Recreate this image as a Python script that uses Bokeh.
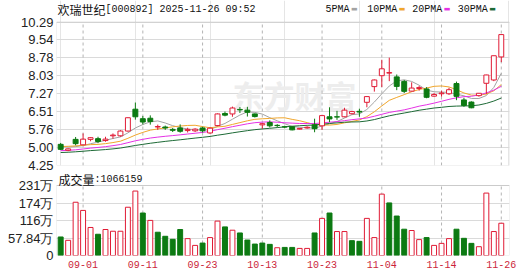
from bokeh.plotting import figure
from bokeh.layouts import column
from bokeh.models import (Range1d, FixedTicker, Label, ColumnDataSource,
                          PrintfTickFormatter, BoxAnnotation)
from bokeh.embed import file_html
from bokeh.resources import INLINE

# ---------------- data ----------------
dates = ["08-27", "08-28", "08-29",
         "09-01", "09-02", "09-03", "09-04", "09-05", "09-08", "09-09", "09-10", "09-11", "09-12",
         "09-15", "09-16", "09-17", "09-18", "09-19", "09-22", "09-23", "09-24", "09-25", "09-26",
         "09-29", "09-30", "10-09", "10-10", "10-13", "10-14", "10-15", "10-16", "10-17",
         "10-20", "10-21", "10-22", "10-23", "10-24", "10-27", "10-28", "10-29", "10-30", "10-31",
         "11-03", "11-04", "11-05", "11-06", "11-07", "11-10", "11-11", "11-12", "11-13", "11-14",
         "11-17", "11-18", "11-19", "11-20", "11-21", "11-24", "11-25", "11-26"]
opens = [5.14, 4.89, 5.35, 5.12, 5.35, 5.38, 5.30, 5.50, 5.50, 5.70,
         6.62, 6.22, 6.24, 5.87, 5.87, 5.77, 5.83, 5.72, 5.71, 5.83,
         5.62, 5.93, 6.44, 6.42, 6.61, 6.58, 6.42, 5.96, 6.06, 5.94,
         5.88, 5.88, 5.78, 5.83, 5.96, 5.92, 6.30, 6.30, 6.30, 6.43,
         6.53, 6.91, 7.57, 8.03, 8.14, 7.98, 7.79, 7.38, 7.49, 7.47,
         7.17, 7.27, 7.27, 7.70, 7.01, 6.92, 7.19, 7.71, 7.85, 8.82]
closes = [4.93, 4.95, 5.17, 5.36, 5.42, 5.26, 5.36, 5.53, 5.70, 6.26,
          6.30, 6.08, 6.10, 5.89, 5.83, 5.73, 5.69, 5.77, 5.78, 5.71,
          5.82, 6.42, 6.37, 6.67, 6.59, 6.49, 6.31, 6.01, 5.92, 5.93,
          5.87, 5.75, 5.81, 5.86, 5.80, 6.35, 6.21, 6.29, 6.58, 6.52,
          6.50, 7.15, 7.85, 8.32, 8.16, 7.58, 7.37, 7.51, 7.53, 7.12,
          7.24, 7.30, 7.44, 7.16, 6.78, 6.68, 7.29, 8.06, 8.87, 9.76]
highs = [5.20, 4.97, 5.45, 5.60, 5.44, 5.46, 5.46, 5.60, 5.74, 6.27,
         6.90, 6.33, 6.36, 5.97, 5.93, 5.83, 5.98, 5.84, 5.82, 5.88,
         5.86, 6.44, 6.52, 6.73, 6.71, 6.72, 6.44, 6.04, 6.15, 5.99,
         5.92, 5.90, 5.83, 5.90, 6.22, 6.37, 6.70, 6.55, 6.68, 6.55,
         6.64, 7.17, 7.87, 8.70, 8.79, 8.08, 7.85, 7.75, 7.60, 7.55,
         7.30, 7.40, 7.52, 7.78, 7.10, 6.95, 7.30, 8.07, 8.87, 9.76]
lows = [4.90, 4.85, 5.10, 5.11, 5.27, 5.19, 5.25, 5.38, 5.46, 5.68,
        6.18, 5.98, 5.97, 5.75, 5.75, 5.66, 5.63, 5.64, 5.66, 5.64,
        5.58, 5.90, 6.32, 6.30, 6.46, 6.31, 6.27, 5.80, 5.85, 5.86,
        5.82, 5.73, 5.76, 5.80, 5.65, 5.75, 6.07, 6.17, 6.28, 6.40,
        6.30, 6.70, 7.36, 7.55, 7.80, 7.42, 7.30, 7.36, 7.40, 7.08,
        7.14, 7.15, 7.22, 7.00, 6.72, 6.66, 7.15, 7.25, 7.80, 8.60]
# volume in 万
volumes = [61.2, 50.1, 176.0, 149.0, 92.6, 70.2, 85.9, 80.2, 80.2, 159.5,
           213.0, 140.4, 116.0, 76.9, 63.5, 53.5, 85.9, 55.8, 33.4, 41.1,
           59.2, 113.7, 94.6, 83.6, 74.5, 51.1, 37.8, 41.1, 36.8, 25.7,
           26.7, 26.7, 23.4, 23.4, 74.5, 122.7, 140.4, 79.2, 79.2, 49.1,
           46.8, 122.7, 59.2, 202.9, 173.8, 130.4, 86.9, 82.6, 52.5, 59.2,
           33.4, 40.1, 55.8, 86.9, 56.8, 40.1, 29.1, 206.3, 79.2, 106.6]
# closes of the 29 sessions before 08-27 (for the moving averages)
pre_closes = [4.58, 4.61, 4.66, 4.62, 4.64, 4.68, 4.66, 4.63, 4.65, 4.67,
              4.67, 4.71, 4.69, 4.66, 4.70, 4.72, 4.68, 4.71, 4.73, 4.73,
              4.85, 5.00, 5.10, 5.15, 5.15, 5.05, 5.08, 5.12, 5.05]
tick_dates = ["09-01", "09-11", "09-23", "10-13", "10-23", "11-04", "11-14", "11-26"]
price_ticks = [4.25, 5.00, 5.76, 6.51, 7.27, 8.03, 8.78, 9.54, 10.29]
vol_ticks = [0, 57.84, 115.68, 173.52, 231.36]
vol_tick_labels = ["0", "57.84万", "116万", "174万", "231万"]
ma_periods = [5, 10, 20, 30]
ma_names = ["5PMA", "10PMA", "20PMA", "30PMA"]
stock_name = "欢瑞世纪"
stock_info = "[000892] 2025-11-26 09:52"
vol_title = "成交量"
vol_now = ":1066159"
watermark = "东方财富"

# ---------------- styles / layout ----------------
RED = "#e01b35"
GREEN = "#0c7a12"
MA_COLORS = ["#a3a3a3", "#f0a62c", "#e532e5", "#1d6a36"]
BORDER = "#a8a8a8"
CJK = "Noto Sans CJK SC"
MONO = "Liberation Mono"
SANS = "Liberation Sans"

W = 530
FL, FR = 56, 509                 # frame left/right in canvas px
P_H, P_TOP_PANEL, P_BOT_PANEL = 172, 21.5, 165     # price figure
V_TOP, V_PANEL_TOP, V_PANEL_BOT = 172, 185, 255    # volume figure (canvas y)
VOL_TITLE_Y = 179

n = len(dates)
xs = list(range(n))
X0, X1 = -0.56, n + 0.1
px_x = (FR - FL) / (X1 - X0)


def dx(cx):
    """canvas x -> data x"""
    return X0 + (cx - FL) / px_x


pk = (price_ticks[-1] - price_ticks[0]) / (P_BOT_PANEL - P_TOP_PANEL)
p_end = price_ticks[-1] + P_TOP_PANEL * pk


def dyp(cy):
    return price_ticks[0] + (P_BOT_PANEL - cy) * pk


vk = vol_ticks[-1] / (V_PANEL_BOT - V_PANEL_TOP)
v_end = vol_ticks[-1] + (V_PANEL_TOP - V_TOP) * vk


def dyv(cy):
    return (V_PANEL_BOT - cy) * vk


up = [c >= o for o, c in zip(opens, closes)]
prev = [pre_closes[-1]] + closes[:-1]
vup = [c >= pc for c, pc in zip(closes, prev)]
allc = pre_closes + closes
off = len(pre_closes)
mas = [[sum(allc[off + i - per + 1: off + i + 1]) / per for i in range(n)] for per in ma_periods]

src = ColumnDataSource(dict(
    x=xs, h=highs, l=lows,
    top=[max(o, c) for o, c in zip(opens, closes)],
    bot=[min(o, c) for o, c in zip(opens, closes)],
    col=[RED if u else GREEN for u in up],
    fill=["white" if u else GREEN for u in up],
    vol=volumes,
    vcol=[RED if u else GREEN for u in vup],
    vfill=["white" if u else GREEN for u in vup],
))
tick_idx = [dates.index(d) for d in tick_dates]
xr = Range1d(X0, X1)


def style_yaxis(ax):
    ax.major_tick_line_color = None
    ax.minor_tick_line_color = None
    ax.axis_line_color = None
    ax.major_tick_out = 0
    ax.major_label_standoff = 3
    ax.major_label_text_font = SANS
    ax.major_label_text_font_size = "13px"
    ax.major_label_text_color = "#222222"


def txt(fig, x, y, s, font, size, color="#111111", **kw):
    fig.add_layout(Label(x=x, y=y, text=s, text_font=font, text_font_size=size,
                         text_color=color, text_baseline="middle", **kw))


# ---------------- price panel ----------------
p = figure(width=W, height=P_H, x_range=xr, y_range=Range1d(price_ticks[0], p_end),
           output_backend="svg", toolbar_location=None, title=None,
           x_axis_location=None, min_border_left=FL, min_border_right=W - FR,
           min_border_top=0, min_border_bottom=P_H - P_BOT_PANEL)
p.outline_line_color = None
p.yaxis.ticker = FixedTicker(ticks=price_ticks)
p.yaxis.formatter = PrintfTickFormatter(format="%.2f")
style_yaxis(p.yaxis)
p.ygrid.grid_line_color = "#dadada"

txt(p, dx(232), dyp(93.5), watermark, CJK, "31px", "#ededed", text_font_style="bold",
    level="underlay")

p.segment(x0=tick_idx, y0=price_ticks[0], x1=tick_idx, y1=price_ticks[-1],
          line_color="#b4b4b4", line_dash="3 3", line_width=1)
p.add_layout(BoxAnnotation(left=X0, right=X1, bottom=price_ticks[0], top=price_ticks[-1],
                           fill_color=None, line_color=BORDER, line_width=1))

for vals, c in zip(mas, MA_COLORS):
    p.line(xs, vals, line_color=c, line_width=1)

p.segment(x0="x", y0="h", x1="x", y1="l", line_color="col", line_width=1, source=src)
p.vbar(x="x", width=0.66, top="top", bottom="bot", fill_color="fill",
       line_color="col", line_width=1, source=src)

ty = dyp(8.5)
txt(p, dx(57), ty, stock_name, CJK, "12px")
txt(p, dx(105), ty, stock_info, MONO, "10px")
leg_cx = [325, 366.7, 411.7, 457.3]
for cx, name, c in zip(leg_cx, ma_names, MA_COLORS):
    txt(p, dx(cx), ty, name, MONO, "10px")
    txt(p, dx(cx + 6 * len(name) + 1.5), dyp(8.2), "▬", "DejaVu Sans", "7px", c)

# ---------------- volume panel ----------------
v = figure(width=W, height=276 - P_H, x_range=xr, y_range=Range1d(0, v_end),
           output_backend="svg", toolbar_location=None, title=None,
           min_border_left=FL, min_border_right=W - FR, min_border_top=0,
           min_border_bottom=276 - V_PANEL_BOT)
v.outline_line_color = None
v.yaxis.ticker = FixedTicker(ticks=vol_ticks)
v.yaxis.major_label_overrides = {t: s for t, s in zip(vol_ticks, vol_tick_labels)}
style_yaxis(v.yaxis)
v.xaxis.ticker = FixedTicker(ticks=tick_idx)
v.xaxis.major_label_overrides = {i: d for i, d in zip(tick_idx, tick_dates)}
v.xaxis.major_tick_line_color = None
v.xaxis.minor_tick_line_color = None
v.xaxis.axis_line_color = None
v.xaxis.major_tick_out = 0
v.xaxis.major_label_standoff = 5
v.xaxis.major_label_text_font = MONO
v.xaxis.major_label_text_font_size = "10px"
v.xaxis.major_label_text_color = "#cc1f3a"
v.ygrid.grid_line_color = "#dadada"
v.xgrid.grid_line_color = None

v.segment(x0=tick_idx, y0=0, x1=tick_idx, y1=vol_ticks[-1],
          line_color="#b4b4b4", line_dash="3 3", line_width=1)
v.add_layout(BoxAnnotation(left=X0, right=X1, bottom=0, top=vol_ticks[-1],
                           fill_color=None, line_color=BORDER, line_width=1))

v.vbar(x="x", width=0.66, top="vol", bottom=0, fill_color="vfill",
       line_color="vcol", line_width=1, source=src)

txt(v, dx(58), dyv(VOL_TITLE_Y), vol_title, CJK, "12px")
txt(v, dx(94), dyv(VOL_TITLE_Y), vol_now, MONO, "10px")

layout = column(p, v, spacing=0)
open("out.html", "w").write(file_html(layout, INLINE))
